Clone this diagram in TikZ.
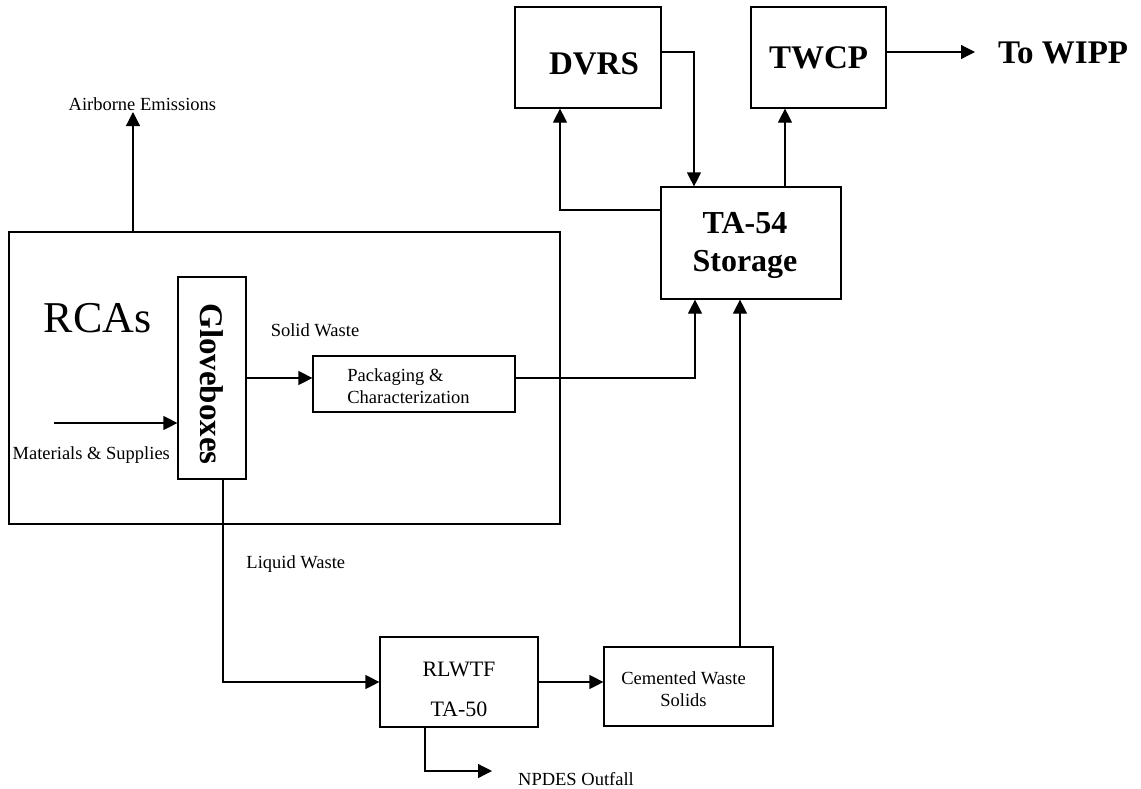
\documentclass[tikz,border=0pt]{standalone}
\usepackage{fontspec}
\setmainfont{Liberation Serif}
\usepackage{graphicx}
\usetikzlibrary{arrows.meta}
\begin{document}
\begin{tikzpicture}[x=1pt,y=-1pt,
  box/.style={draw,line width=1.2pt,inner sep=0pt},
  arr/.style={line width=1.2pt,-{Triangle[length=14pt,width=14pt]}},
  txt/.style={inner sep=0pt},
  small/.style={font=\fontsize{18.5}{21.7}\selectfont},
  mid/.style={font=\fontsize{22}{40.6}\selectfont},
  big/.style={font=\bfseries\fontsize{33}{39}\selectfont},
  bigb/.style={font=\bfseries\fontsize{32}{38}\selectfont}]
\useasboundingbox (0,0) rectangle (1141,788);

% boxes
\node[box,minimum width=551pt,minimum height=292pt] (rca) at (284.5,378) {};
\node[box,minimum width=68pt,minimum height=202pt,
  label={[big,yshift=-6pt]center:{\rotatebox{-90}{Gloveboxes}}}] (glove) at (212,378) {};
\node[box,minimum width=202pt,minimum height=56pt,
  label={[small,align=left,xshift=-5.5pt,yshift=-2pt]center:{Packaging \&\\Characterization}}] (pack) at (414,384) {};
\node[box,minimum width=180pt,minimum height=112pt,
  label={[bigb,align=center,xshift=-6pt,yshift=-2.5pt]center:{TA-54\\Storage}}] (ta54) at (751,243) {};
\node[box,minimum width=146pt,minimum height=101pt,
  label={[big,xshift=6pt,yshift=-6pt]center:{DVRS}}] (dvrs) at (588,57.5) {};
\node[box,minimum width=135pt,minimum height=101pt,
  label={[big]center:{TWCP}}] (twcp) at (818.5,57.5) {};
\node[box,minimum width=158pt,minimum height=90pt,
  label={[mid,align=center,yshift=-7.5pt]center:{RLWTF\\TA-50}}] (rlwtf) at (459,682) {};
\node[box,minimum width=169pt,minimum height=79pt,
  label={[small,align=center,xshift=-5pt,yshift=-2.5pt]center:{Cemented Waste\\Solids}}] (cem) at (688.5,686.5) {};

% free texts
\node[txt,small,anchor=base] (air) at (142.4,110.7) {Airborne Emissions};
\node[txt,font=\fontsize{44}{50}\selectfont,anchor=base] (rcas) at (97.5,332.7) {RCAs};
\node[txt,small,anchor=base] (solid) at (315,336) {Solid Waste};
\node[txt,small,anchor=base] (mat) at (91.3,459) {Materials \& Supplies};
\node[txt,small,anchor=base] (liq) at (295.8,568.3) {Liquid Waste};
\node[txt,small,anchor=base] (npdes) at (576,785) {NPDES Outfall};
\node[txt,big,anchor=base west] (wipp) at (998,63.4) {To WIPP};

% connectors
\coordinate (airtip) at (133,112);
\draw[arr] (airtip |- rca.north) -- (airtip);
\coordinate (matin) at (54,423);
\draw[arr] (matin) -- (matin -| glove.west);
\draw[arr] (glove.east) -- (glove.east -| pack.west);
\coordinate (packup) at (695,378);
\draw[arr] (packup -| pack.east) -| (packup |- ta54.south);
\coordinate (cemup) at (740,0);
\draw[arr] (cemup |- cem.north) -- (cemup |- ta54.south);
\coordinate (todvrs) at (560,210);
\draw[arr] (todvrs -| ta54.west) -| (todvrs |- dvrs.south);
\coordinate (fromdvrs) at (694,52);
\draw[arr] (fromdvrs -| dvrs.east) -| (fromdvrs |- ta54.north);
\coordinate (totwcp) at (785,0);
\draw[arr] (totwcp |- ta54.north) -- (totwcp |- twcp.south);
\coordinate (wippend) at (975,52);
\draw[arr] (wippend -| twcp.east) -- (wippend);
\coordinate (liqdown) at (223,0);
\draw[arr] (liqdown |- glove.south) |- (rlwtf.west);
\draw[arr] (rlwtf.east) -- (rlwtf.east -| cem.west);
\coordinate (npdown) at (425,771);
\coordinate (npend) at (492,771);
\draw[arr] (npdown |- rlwtf.south) -- (npdown) -- (npend);
\end{tikzpicture}
\end{document}
